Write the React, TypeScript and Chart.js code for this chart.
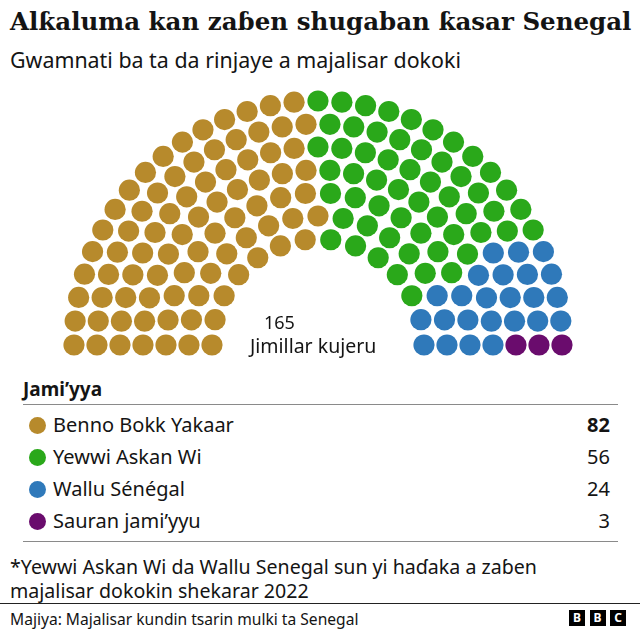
import React, { useEffect, useRef } from "react";
import { Chart, registerables } from "chart.js";

Chart.register(...registerables);

// ---- data ----
const parties = ["Benno Bokk Yakaar", "Yewwi Askan Wi", "Wallu Sénégal", "Sauran jami’yyu"];
const seats = [82, 56, 24, 3];
const partyColors = ["#B78A2C", "#2AA81A", "#2F79BA", "#6A0C6D"];
const totalLabel = "165";
const totalCaption = "Jimillar kujeru";
const ringCount = 7;

// ---- geometry (layout) ----
const CANVAS_TOP = 85;
const CANVAS_W = 640;
const CANVAS_H = 280;
const CX = 318; // centre x in px
const CY_PAGE = 345; // centre y in page px
const INNER_R = 106;
const RING_GAP = 23;
const DOT_R = 10.6;

function buildSeats() {
  const total = seats.reduce((a, b) => a + b, 0);
  const radii = Array.from({ length: ringCount }, (_, i) => INNER_R + i * RING_GAP);
  const sumR = radii.reduce((a, b) => a + b, 0);
  const raw = radii.map((r) => (total * r) / sumR);
  const counts = raw.map((v) => Math.floor(v));
  let left = total - counts.reduce((a, b) => a + b, 0);
  const order = raw.map((v, i) => ({ i, f: v - Math.floor(v) })).sort((a, b) => b.f - a.f);
  for (let k = 0; k < left; k++) counts[order[k].i]++;
  const all: { ring: number; ang: number; r: number }[] = [];
  radii.forEach((r, ri) => {
    const n = counts[ri];
    for (let j = 0; j < n; j++) {
      const ang = Math.PI - (j * Math.PI) / (n - 1);
      all.push({ ring: ri, ang, r });
    }
  });
  all.sort((a, b) => {
    const d = Math.round((b.ang - a.ang) * 1e6);
    if (d !== 0) return d;
    return a.ring - b.ring;
  });
  const baseY = CANVAS_TOP + CANVAS_H - CY_PAGE; // centre y in data units
  const out: { x: number; y: number }[][] = parties.map(() => []);
  let idx = 0;
  seats.forEach((n, p) => {
    for (let k = 0; k < n; k++) {
      const s = all[idx++];
      out[p].push({ x: CX + s.r * Math.cos(s.ang), y: baseY + s.r * Math.sin(s.ang) });
    }
  });
  return out;
}

const sans = "'Noto Sans', 'Open Sans', sans-serif";

function Txt(props: { x: number; y: number; size: number; children: any; bold?: boolean; right?: boolean; family?: string; color?: string }) {
  const lh = Math.round(props.size * 1.4);
  const style: any = {
    position: "absolute",
    top: props.y - lh / 2,
    height: lh,
    lineHeight: lh + "px",
    fontSize: props.size,
    fontWeight: props.bold ? 700 : 400,
    fontFamily: props.family || sans,
    color: props.color || "#141414",
    whiteSpace: "nowrap",
  };
  if (props.right) style.right = 640 - props.x;
  else style.left = props.x;
  return <div style={style}>{props.children}</div>;
}

export default function App() {
  const ref = useRef<HTMLCanvasElement | null>(null);
  useEffect(() => {
    if (!ref.current) return;
    const pts = buildSeats();
    const chart = new Chart(ref.current, {
      type: "scatter",
      data: {
        datasets: parties.map((p, i) => ({
          label: p,
          data: pts[i],
          backgroundColor: partyColors[i],
          borderWidth: 0,
          pointRadius: DOT_R,
          pointHoverRadius: DOT_R,
        })),
      },
      options: {
        animation: false,
        responsive: false,
        maintainAspectRatio: false,
        layout: { padding: 0, autoPadding: false },
        plugins: { legend: { display: false }, tooltip: { enabled: false } },
        scales: {
          x: { type: "linear", min: 0, max: CANVAS_W, display: false },
          y: { type: "linear", min: 0, max: CANVAS_H, display: false },
        },
      },
    });
    return () => chart.destroy();
  }, []);

  const rowYs = [425, 457, 489, 521];

  return (
    <div style={{ position: "absolute", left: 0, top: 0, width: 640, height: 633, background: "#fff", overflow: "hidden" }}>
      <Txt x={10} y={22} size={24.5} bold family="'DejaVu Serif', serif">
        Alƙaluma kan zaɓen shugaban ƙasar Senegal
      </Txt>
      <Txt x={10} y={60} size={21.4}>
        Gwamnati ba ta da rinjaye a majalisar dokoki
      </Txt>
      <canvas
        ref={ref}
        width={CANVAS_W}
        height={CANVAS_H}
        style={{ position: "absolute", left: 0, top: CANVAS_TOP, width: CANVAS_W, height: CANVAS_H }}
      />
      <Txt x={264} y={322} size={18}>{totalLabel}</Txt>
      <Txt x={250} y={345} size={19.5}>{totalCaption}</Txt>

      <Txt x={23} y={389} size={19} bold>Jami’yya</Txt>
      <div style={{ position: "absolute", left: 23, top: 404, width: 595, height: 1, background: "#8a8a8a" }} />
      {parties.map((p, i) => (
        <React.Fragment key={p}>
          <div
            style={{
              position: "absolute",
              left: 37 - 8.5,
              top: rowYs[i] - 8.5,
              width: 17,
              height: 17,
              borderRadius: "50%",
              background: partyColors[i],
            }}
          />
          <Txt x={53} y={rowYs[i]} size={20}>{p}</Txt>
          <Txt x={610} y={rowYs[i]} size={20} right bold={i === 0}>{String(seats[i])}</Txt>
        </React.Fragment>
      ))}
      <div style={{ position: "absolute", left: 23, top: 541, width: 595, height: 1, background: "#8a8a8a" }} />
      <Txt x={10} y={566} size={19.6}>*Yewwi Askan Wi da Wallu Senegal sun yi haɗaka a zaɓen</Txt>
      <Txt x={10} y={590} size={19.6}>majalisar dokokin shekarar 2022</Txt>
      <div style={{ position: "absolute", left: 0, top: 603, width: 640, height: 1, background: "#222" }} />
      <Txt x={10} y={619} size={15.6}>Majiya: Majalisar kundin tsarin mulki ta Senegal</Txt>
      {["B", "B", "C"].map((l, i) => (
        <div
          key={i}
          style={{
            position: "absolute",
            left: 569 + i * 20.5,
            top: 610,
            width: 16,
            height: 16,
            background: "#000",
            color: "#fff",
            fontFamily: sans,
            fontWeight: 700,
            fontSize: 12,
            lineHeight: "16px",
            textAlign: "center",
          }}
        >
          {l}
        </div>
      ))}
    </div>
  );
}
